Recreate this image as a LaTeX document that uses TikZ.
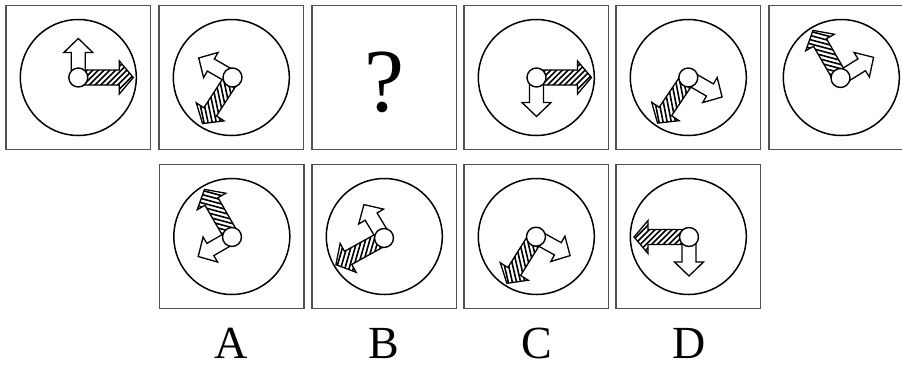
\documentclass[tikz,border=0pt]{standalone}
\usepackage{fontspec}
\setmainfont{Liberation Serif}
\tikzset{
  framebox/.style={draw=black!68, line width=1.5pt},
  dial/.style={draw=black, line width=1.5pt},
  arrowline/.style={draw=black, line width=1.3pt, line join=miter},
  hatchline/.style={draw=black, line width=1.6pt},
  hubdisc/.style={draw=black, fill=white, line width=1.4pt},
  labelfont/.style={font=\fontsize{46}{46}\selectfont, anchor=base, inner sep=0pt, text depth=0pt},
}
\newcommand\hatcharrow[2]{%
  \begin{scope}[shift={#1}, rotate=#2]
    \fill[white] (0,-7.5) -- (41,-7.5) -- (41,-16.5) -- (55,0) -- (41,16.5) -- (41,7.5) -- (0,7.5) -- cycle;
    \begin{scope}
      \clip (0,-7.5) -- (41,-7.5) -- (41,-16.5) -- (55,0) -- (41,16.5) -- (41,7.5) -- (0,7.5) -- cycle;
      \foreach \k in {-30,-24.3,...,62} \draw[hatchline] (\k,20) -- (\k+40,-20);
    \end{scope}
    \draw[arrowline] (0,-7.5) -- (41,-7.5) -- (41,-16.5) -- (55,0) -- (41,16.5) -- (41,7.5) -- (0,7.5) -- cycle;
  \end{scope}}
\newcommand\plainarrow[2]{%
  \begin{scope}[shift={#1}, rotate=#2]
    \draw[arrowline, fill=white] (0,-7) -- (25,-7) -- (25,-14.5) -- (39,0) -- (25,14.5) -- (25,7) -- (0,7) -- cycle;
  \end{scope}}
\newcommand\dialpanel[7]{%
  \draw[framebox] (#2,#3) rectangle ++(144.5,144);
  \draw[dial] (#2+72.3,#3+72) circle (58pt);
  \coordinate (#1) at (#4,#5);
  \hatcharrow{(#1)}{#6}
  \plainarrow{(#1)}{#7}
  \draw[hubdisc] (#1) circle (9.5pt);
}
\begin{document}
\begin{tikzpicture}[x=1pt, y=-1pt]
  \useasboundingbox (0,0) rectangle (902,367);
  \clip (0,0) rectangle (902,367);
  \fill[white] (0,0) rectangle (902,367);
  % top row
  \dialpanel{h1}{6}{5.5}{78.3}{77.5}{0}{90}
  \dialpanel{h2}{159}{5.5}{232.5}{77.5}{237}{150}
  \draw[framebox] (312,5.5) rectangle ++(144.5,144);
  \node[font=\fontsize{90}{90}\selectfont, anchor=base, inner sep=0pt, text depth=0pt] (qm) at (384,111.5) {?};
  \dialpanel{h4}{464}{5.5}{536.5}{77.5}{0}{270}
  \dialpanel{h5}{616}{5.5}{688.3}{77.5}{236}{330}
  \dialpanel{h6}{769}{5.5}{840.5}{78}{120}{32}
  % options
  \dialpanel{hA}{159.5}{164.5}{232}{237}{120}{210}
  \dialpanel{hB}{312}{164.5}{384}{238}{209}{121}
  \dialpanel{hC}{464}{164.5}{536}{236.7}{238}{331}
  \dialpanel{hD}{616}{164.5}{689}{237}{180}{270}
  % labels
  \node[labelfont] (labA) at (231.5,358) {A};
  \node[labelfont] (labB) at (384,358) {B};
  \node[labelfont] (labC) at (536.5,358) {C};
  \node[labelfont] (labD) at (689,358) {D};
\end{tikzpicture}
\end{document}
